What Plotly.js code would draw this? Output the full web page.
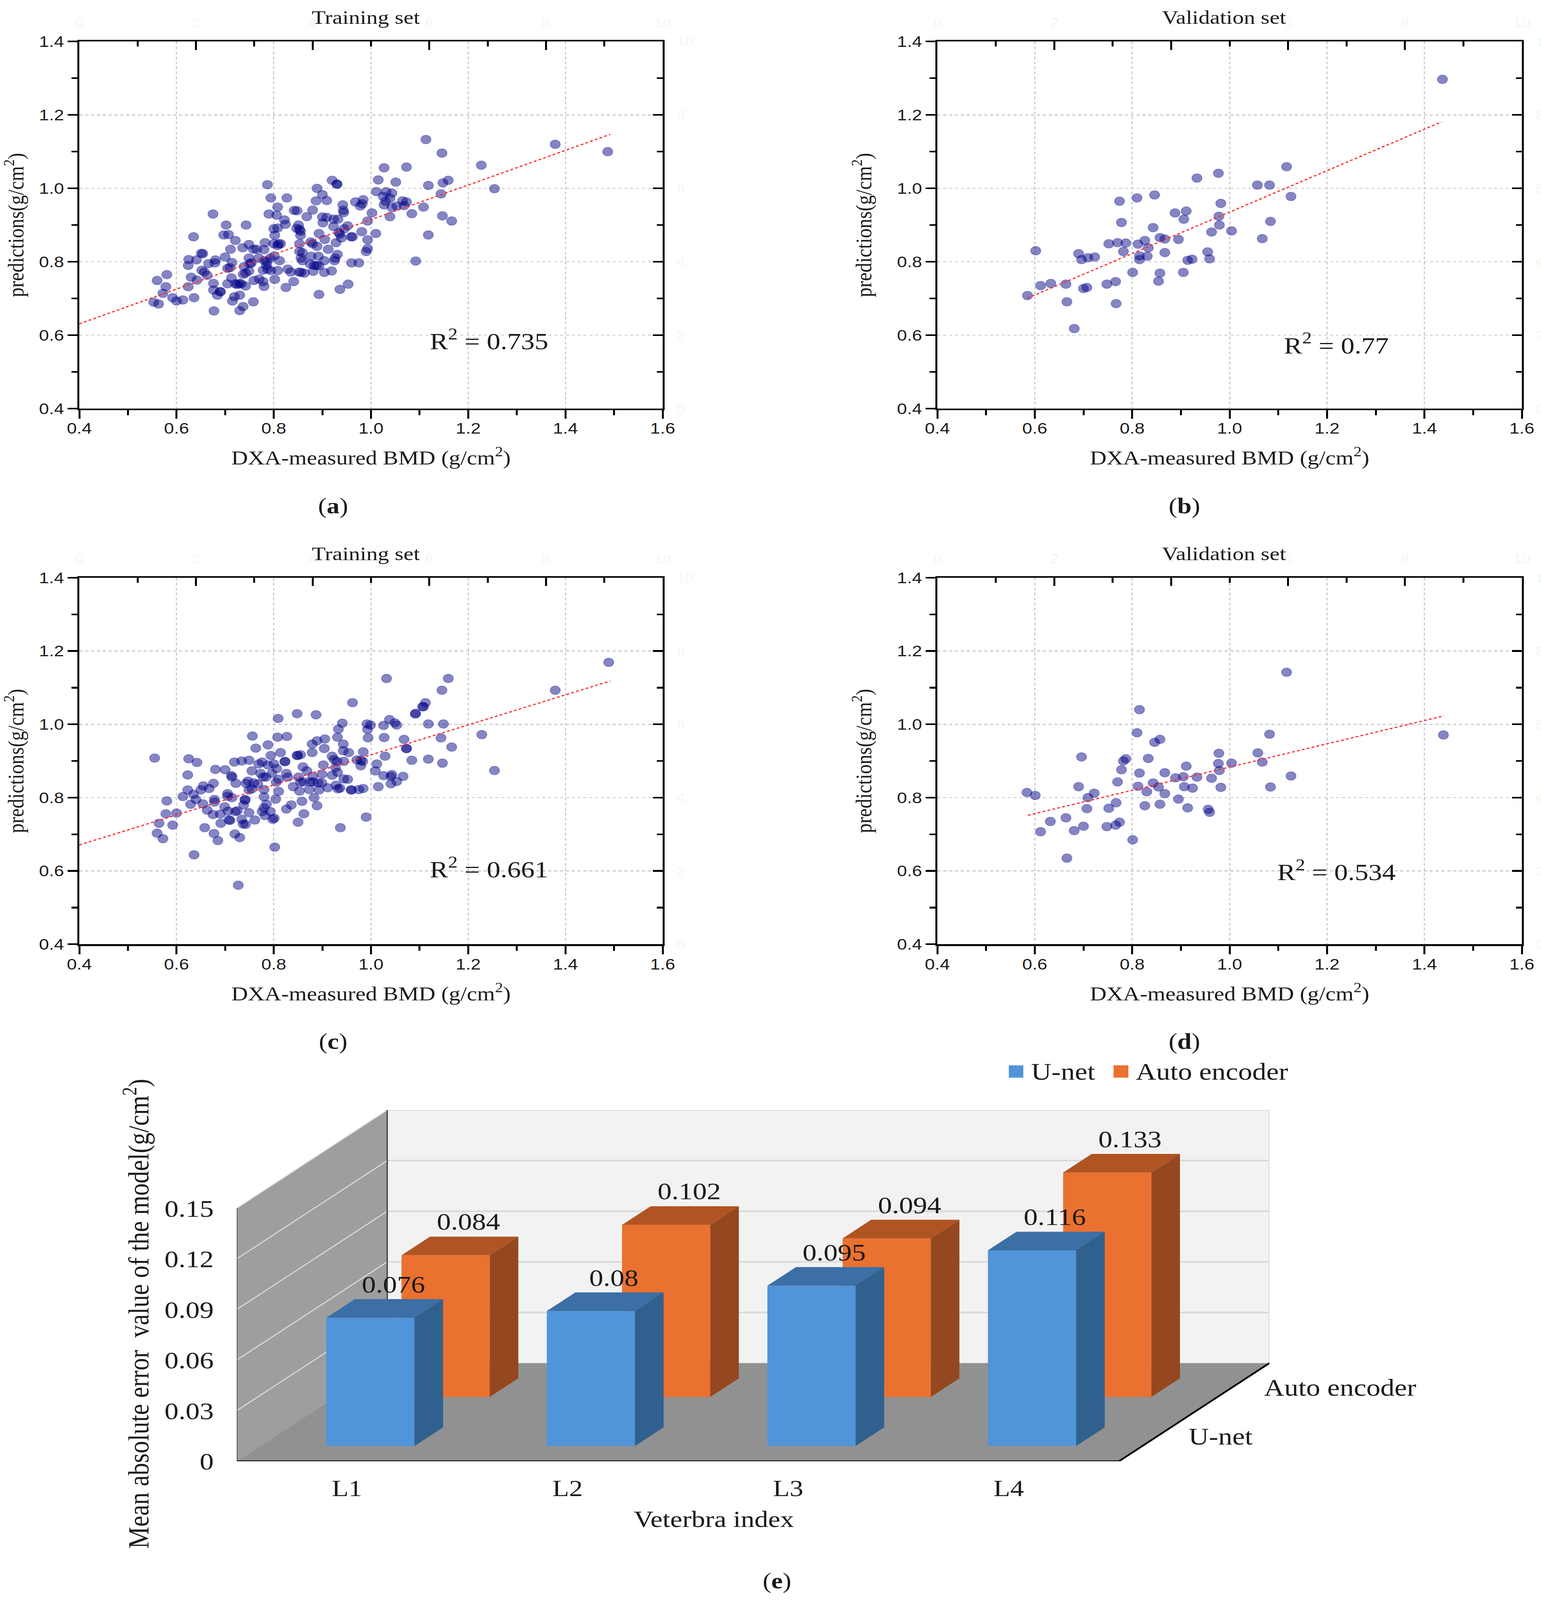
<!DOCTYPE html>
<html>
<head>
<meta charset="utf-8">
<script src="https://cdn.plot.ly/plotly-3.0.1.min.js"></script>
<style>html,body{margin:0;padding:0;background:#fff;overflow:hidden}</style>
</head>
<body>
<div id="chart"></div>
<script>
// panel (a) training set, first model
var aX = [.553,.563,.572,.578,.560,.580,.592,.600,.613,.636,.624,.630,.642,.624,.625,.641,.651,.654,.635,.652,.657,.663,.666,.679,.680,.676,.676,.684,.690,.690,.677,.675,.702,.697,.707,.721,.711,.700,.714,.705,.710,.713,.705,.721,.725,.729,.733,.742,.730,.719,.715,.737,.730,.758,.743,.736,.749,.758,.765,.780,.749,.739,.751,.754,.742,.749,.737,.759,.770,.778,.780,.769,.781,.782,.802,.800,.810,.814,.808,.787,.794,.827,.808,.790,.806,.822,.824,.800,.808,.785,.778,.787,.794,.786,.793,.801,.812,.808,.802,.825,.841,.829,.835,.852,.856,.863,.842,.848,.868,.880,.889,.900,.887,.909,.920,.930,.930,.851,.847,.853,.855,.855,.853,.853,.859,.856,.859,.876,.880,.889,.893,.905,.912,.928,.877,.892,.875,.883,.888,.893,.881,.904,.904,.919,.925,.931,.926,.936,.953,.893,.900,.909,.901,.923,.932,.923,.942,.943,.944,.934,.936,.939,.952,.945,.959,
	1.027,1.015,1.051,1.118,1.148,1.159,1.254,1.011,1.031,1.043,1.025,1.039,1.030,1.027,1.043,1.053,1.065,1.073,1.068,1.144,1.108,1.084,1.039,1.002,.993,1.147,1.166,1.118,.968,.984,.978,.982,.981,.962,1.010,.993,.993,.990,.960,.975,1.092,1.113,1.146,1.227,1.379,1.487,1.073];
var aY = [.690,.685,.714,.732,.749,.765,.702,.693,.696,.702,.732,.758,.750,.790,.806,.805,.823,.822,.868,.777,.772,.763,.795,.797,.805,.741,.723,.709,.719,.718,.666,.930,.900,.873,.874,.858,.834,.813,.798,.782,.784,.756,.740,.740,.738,.741,.740,.734,.709,.705,.693,.678,.667,.691,.900,.838,.847,.834,.834,.833,.810,.787,.795,.797,.769,.775,.766,.749,.753,.746,.733,.810,.803,.852,.872,.849,.849,.849,.844,1.010,.974,.974,.949,.930,.927,.914,.902,.890,.892,.790,.777,.780,.776,.800,.810,.816,.803,.776,.752,.730,.746,.780,.772,.772,.771,.769,.940,.939,.923,.941,1.000,.983,.966,.967,1.022,1.012,1.011,.900,.891,.888,.883,.872,.849,.828,.825,.810,.803,.854,.849,.842,.877,.861,.834,.852,.815,.815,.794,.790,.790,.789,.774,.803,.771,.775,.803,.820,.810,.725,.739,.711,.922,.921,.906,.916,.916,.896,.955,.940,.934,.880,.875,.865,.898,.890,.868,
	1.056,1.023,1.017,1.008,1.015,1.022,.999,.991,.991,.987,.978,.973,.965,.955,.948,.952,.966,.963,.953,.985,.949,.931,.923,.933,.911,.925,.911,.873,.963,.969,.952,.958,.882,.868,.877,.860,.836,.828,.797,.797,.802,1.133,1.096,1.063,1.120,1.100,1.058];
var aFitX = [0.4, 1.492];
var aFitY = [0.631, 1.147];

// panel (b) validation set, first model
var bX = [.585,.602,.612,.633,.664,.666,.681,.690,.696,.700,.707,.709,.723,.748,.752,.766,.767,.770,.774,.778,.782,.787,.801,.810,.812,.815,.815,.826,.831,.833,.843,.846,.854,.857,.857,.867,.867,.888,.895,.905,.906,.911,.914,.923,.933,.955,.959,.963,.977,.978,.979,.982,1.004,1.057,1.067,1.082,1.084,1.117,1.126,1.437];
var bY = [.708,.830,.735,.741,.739,.691,.618,.822,.806,.727,.730,.811,.813,.739,.849,.746,.686,.852,.965,.907,.828,.851,.771,.974,.848,.816,.806,.858,.815,.838,.893,.982,.747,.769,.866,.825,.862,.933,.861,.771,.916,.938,.804,.807,1.028,.827,.808,.881,1.041,.924,.900,.959,.884,1.009,.863,1.009,.910,1.059,.978,1.297];
var bFitX = [0.585, 1.435];
var bFitY = [0.701, 1.181];

// panel (c) training set, second model
var cX = [.555,.625,.642,.623,.623,.613,.635,.640,.655,.650,.667,.676,.580,.578,.600,.629,.654,.663,.675,.690,.564,.592,.560,.572,.658,.677,.685,.636,.727,.720,.730,.691,.708,.710,.734,.737,.742,.761,.749,.725,.721,.706,.699,.738,.741,.741,.678,.678,.705,.705,.714,.680,.700,.713,.714,.722,.719,.734,.749,.756,.763,.788,.809,.848,.887,.808,.827,.814,.794,.823,.823,.755,.769,.776,.788,.800,.806,.796,.778,.784,.773,.826,.829,.805,.810,.747,.759,.767,.743,.749,.755,.780,.780,.785,.780,.776,.782,.793,.798,.801,.810,.804,.826,.836,.862,.850,.802,.937,.858,.883,.889,.840,.853,.873,.893,.911,.932,.855,.861,.875,.881,.891,.899,.851,.860,.868,.899,.880,.848,.849,.855,.879,.879,.889,.905,.904,.902,.920,.924,.930,.927,.931,.920,.928,.943,.943,.931,.933,.941,.944,.952,.944,.959,
	1.108,1.092,.992,.999,.993,1.026,1.038,1.049,1.053,1.118,1.149,.994,1.027,1.068,1.144,1.228,1.166,1.073,1.073,.984,.954,1.029,1.084,1.118,1.147,.971,.979,.983,.979,1.012,1.009,1.026,1.043,1.041,1.066,1.053,1.041,1.015,.960,.975,.984,.936,.990,1.254,1.489,1.379,1.146,1.159,1.032,1.112,1.106,1.091,.962];
var cY = [.908,.906,.896,.862,.821,.803,.809,.795,.832,.821,.825,.839,.791,.756,.758,.782,.783,.766,.754,.755,.730,.725,.703,.688,.718,.702,.683,.644,.561,.701,.691,.730,.739,.738,.741,.728,.727,.739,.759,.764,.762,.763,.775,.780,.793,.795,.795,.788,.811,.804,.800,.877,.876,.860,.856,.839,.897,.900,.902,.968,.935,.944,1.016,1.029,1.026,.965,.967,.923,.915,.899,.898,.873,.892,.897,.889,.892,.879,.866,.856,.856,.866,.866,.856,.842,.850,.845,.840,.837,.839,.821,.824,.822,.802,.782,.772,.762,.751,.762,.741,.744,.817,.796,.769,.780,.756,.733,.665,.718,.790,.800,.778,.830,.818,.822,.821,.827,.824,.842,.843,.843,.843,.840,.840,.856,.884,.873,.864,.858,.915,.915,.917,.923,.946,.955,.960,.934,.889,.913,.904,.899,.882,.869,.861,.834,.946,.928,.965,.987,1.003,.899,.850,.851,.821,
	1.048,1.030,1.001,.998,.986,.997,1.013,1.004,.998,1.001,1.001,.963,.964,.959,.963,.972,.938,.934,.934,.925,.923,.913,.902,.905,.894,.903,.902,.899,.887,.892,.873,.860,.863,.858,.858,.844,.838,.830,.821,.822,.825,.826,.747,.874,1.169,1.093,1.093,1.125,1.125,1.059,1.048,1.028,1.059];
var cFitX = [0.4, 1.492];
var cFitY = [0.671, 1.118];

// panel (d) validation set, second model
var dX = [.584,.601,.612,.632,.664,.666,.681,.690,.696,.700,.707,.709,.722,.748,.752,.766,.767,.770,.774,.778,.782,.787,.801,.810,.812,.815,.815,.826,.830,.833,.843,.846,.854,.857,.857,.867,.867,.889,.895,.905,.907,.911,.914,.924,.933,.956,.959,.963,.977,.978,.979,.982,1.004,1.058,1.067,1.082,1.084,1.117,1.126,1.439];
var dY = [.814,.806,.707,.735,.745,.635,.710,.830,.911,.722,.770,.800,.812,.721,.771,.725,.786,.843,.733,.876,.900,.906,.685,.977,.831,1.040,.867,.778,.816,.907,.840,.951,.829,.782,.959,.811,.868,.854,.796,.857,.830,.886,.772,.826,.856,.768,.760,.853,.893,.921,.874,.828,.894,.922,.897,.973,.829,1.142,.859,.971];
var dFitX = [0.586, 1.440];
var dFitY = [0.752, 1.023];

// panel (e) bars
var vertebrae = ['L1', 'L2', 'L3', 'L4'];
var unetValues = [0.076, 0.08, 0.095, 0.116];
var autoValues = [0.084, 0.102, 0.094, 0.133];
var barTicks = [0, 0.03, 0.06, 0.09, 0.12, 0.15];
var barTickText = ['0', '0.03', '0.06', '0.09', '0.12', '0.15'];
var seriesNames = ['U-net', 'Auto encoder'];

var W = 3944, H = 4797;
var SERIF = 'Liberation Serif, Times New Roman, serif';
var SANS = 'Liberation Sans, Arial, sans-serif';
var INK = '#1a1a1a';

function px(x) { return x / W; }
function py(y) { return 1 - y / H; }

var panels = [
	{x: aX, y: aY, fx: aFitX, fy: aFitY, left: 203, right: 1696, top: 124.5, bottom: 1225, title: 'Training set', titleX: 936, titleY: 51, tag: 'a', tagX: 852, tagY: 1517, r2: 'R<sup>2</sup> = 0.735', rx: 1.243, ry: 0.588},
	{x: bX, y: bY, fx: bFitX, fy: bFitY, left: 2399, right: 3895, top: 124.5, bottom: 1225, title: 'Validation set', titleX: 3132, titleY: 51, tag: 'b', tagX: 3031, tagY: 1517, r2: 'R<sup>2</sup> = 0.77', rx: 1.219, ry: 0.577},
	{x: cX, y: cY, fx: cFitX, fy: cFitY, left: 203, right: 1696, top: 1732, bottom: 2831, title: 'Training set', titleX: 936, titleY: 1661, tag: 'c', tagX: 852, tagY: 3122, r2: 'R<sup>2</sup> = 0.661', rx: 1.243, ry: 0.609},
	{x: dX, y: dY, fx: dFitX, fy: dFitY, left: 2399, right: 3895, top: 1732, bottom: 2831, title: 'Validation set', titleX: 3132, titleY: 1661, tag: 'd', tagX: 3031, tagY: 3122, r2: 'R<sup>2</sup> = 0.534', rx: 1.219, ry: 0.602}
];

var traces = [];
var annotations = [];
var shapes = [];
var layout = {
	width: W, height: H,
	margin: {l: 0, r: 0, t: 0, b: 0},
	paper_bgcolor: '#fff', plot_bgcolor: 'rgba(0,0,0,0)',
	showlegend: false,
	hovermode: false
};

function paperText(text, x, y, size, extra) {
	var a = {text: text, xref: 'paper', yref: 'paper', x: px(x), y: py(y), showarrow: false,
		xanchor: 'center', yanchor: 'middle', font: {family: SERIF, size: size, color: INK}};
	for (var k in extra) a[k] = extra[k];
	annotations.push(a);
}

panels.forEach(function (p, i) {
	var n = i * 2 + 1, m = n + 1;
	var xName = n === 1 ? 'x' : 'x' + n, yName = n === 1 ? 'y' : 'y' + n;
	var xKey = n === 1 ? 'xaxis' : 'xaxis' + n, yKey = n === 1 ? 'yaxis' : 'yaxis' + n;
	var xDom = [px(p.left), px(p.right)], yDom = [py(p.bottom), py(p.top)];
	var grid = {showgrid: true, gridcolor: '#c9c9c9', gridwidth: 3, griddash: '8px,7px', zeroline: false};
	var main = {showline: true, linecolor: '#000', linewidth: 5, ticks: 'outside', ticklen: 25, tickwidth: 5, tickcolor: '#000',
		minor: {dtick: 0.1, ticks: 'outside', ticklen: 15, tickwidth: 5, tickcolor: '#000', showgrid: false},
		dtick: 0.2, tick0: 0.4, tickformat: '.1f', tickfont: {family: SANS, size: 46, color: INK}};
	layout[xKey] = Object.assign({}, main, grid, {domain: xDom, range: [0.4, 1.6], anchor: yName, ticklabelstandoff: -10,
		title: {text: 'DXA-measured BMD (g/cm<sup>2</sup>)', font: {family: SERIF, size: 59, color: INK}, standoff: 44}});
	layout[yKey] = Object.assign({}, main, grid, {domain: yDom, range: [0.4, 1.4], anchor: xName, ticklabelstandoff: 0,
		title: {text: 'predictions(g/cm<sup>2</sup>)', font: {family: SERIF, size: 58, color: INK}, standoff: 48}});

	// faint 0-10 top and right axes of the source plots
	var ghost = {showline: true, linecolor: '#000', linewidth: 5, range: [0, 10], dtick: 2, ticks: 'inside', ticklen: 25, tickwidth: 5, tickcolor: '#000',
		minor: {dtick: 1, ticks: 'inside', ticklen: 15, tickwidth: 5, tickcolor: '#000', showgrid: false},
		showgrid: false, zeroline: false, tickfont: {family: SANS, size: 40, color: '#f3f7f1'}, ticklabelstandoff: 22};
	layout['xaxis' + m] = Object.assign({}, ghost, {domain: xDom, overlaying: xName, side: 'top', anchor: 'y' + m});
	layout['yaxis' + m] = Object.assign({}, ghost, {domain: yDom, overlaying: yName, side: 'right', anchor: 'x' + m});
	traces.push({type: 'scatter', mode: 'markers', x: [null], y: [null], xaxis: 'x' + m, yaxis: 'y' + m});

	traces.push({type: 'scatter', mode: 'markers', x: p.x, y: p.y, xaxis: xName, yaxis: yName,
		marker: {size: 26, color: 'rgba(0,0,128,0.48)', line: {width: 2, color: 'rgba(0,0,170,0.3)'}}});
	traces.push({type: 'scatter', mode: 'lines', x: p.fx, y: p.fy, xaxis: xName, yaxis: yName,
		line: {color: '#ff2a2a', width: 3.5, dash: '7px,6px'}});

	paperText(p.title, p.titleX, p.titleY, 58);
	paperText('(<b>' + p.tag + '</b>)', p.tagX, p.tagY, 66);
	annotations.push({text: p.r2, xref: xName, yref: yName, x: p.rx, y: p.ry, showarrow: false,
		font: {family: SERIF, size: 70, color: INK}});
});

// panel (e): oblique projection of category, depth row and value onto one 2D axis pair
var KX = 0.3411, KY = 0.0291;
var XE = 'x9', YE = 'y9';
function project(u, d, v) { return [u + d * KX, v + d * KY]; }

function poly(corners, color) {
	var xs = [], ys = [];
	corners.forEach(function (c) {
		if (c === null) { xs.push(null); ys.push(null); return; }
		var q = project(c[0], c[1], c[2]);
		xs.push(q[0]); ys.push(q[1]);
	});
	traces.push({type: 'scatter', mode: 'lines', x: xs, y: ys, xaxis: XE, yaxis: YE,
		fill: 'toself', fillcolor: color, line: {width: 0}});
}
function edge(a, b, color, width) {
	var p = project(a[0], a[1], a[2]), q = project(b[0], b[1], b[2]);
	traces.push({type: 'scatter', mode: 'lines', x: [p[0], q[0]], y: [p[1], q[1]], xaxis: XE, yaxis: YE,
		line: {color: color, width: width}});
}

var TOP = 0.15;
poly([[0, 2, 0], [4, 2, 0], [4, 2, TOP], [0, 2, TOP]], '#f2f2f2');
poly([[0, 0, 0], [0, 2, 0], [0, 2, TOP], [0, 0, TOP]], '#9e9e9e');
barTicks.slice(1).forEach(function (t) {
	edge([0, 2, t], [4, 2, t], '#d9d9d9', 5);
	edge([0, 0, t], [0, 2, t], '#dcdcdc', 3);
});
poly([[0, 0, 0], [4, 0, 0], [4, 2, 0], [0, 2, 0]], '#919191');
edge([4, 2, 0], [4, 2, TOP], '#d9d9d9', 4);
edge([0, 2, 0], [0, 2, TOP], '#333333', 3);
edge([0, 0, 0], [0, 0, TOP], '#333333', 3);
edge([0, 0, 0], [4, 0, 0], '#000', 5);
edge([4, 0, 0], [4, 2, 0], '#000', 5);

function barSeries(values, row, front, top, side) {
	var d0 = row + 0.31, d1 = row + 0.69, f = [], t = [], s = [];
	values.forEach(function (v, i) {
		var u0 = i + 0.3, u1 = i + 0.7;
		f.push([u0, d0, 0], [u1, d0, 0], [u1, d0, v], [u0, d0, v], null);
		t.push([u0, d0, v], [u1, d0, v], [u1, d1, v], [u0, d1, v], null);
		s.push([u1, d0, 0], [u1, d1, 0], [u1, d1, v], [u1, d0, v], null);
		var q = project(i + 0.5, row + 0.5, v);
		annotations.push({text: String(v), xref: XE, yref: YE, x: q[0], y: q[1], xshift: 22, yshift: 72, showarrow: false,
			font: {family: SERIF, size: 72, color: INK}});
	});
	poly(f, front); poly(t, top); poly(s, side);
}
barSeries(autoValues, 1, '#ea7130', '#b05423', '#95481f');
barSeries(unetValues, 0, '#5094da', '#3b6fa5', '#30608e');

layout.xaxis9 = {domain: [px(606), px(3249)], range: [0, 4 + 2 * KX], anchor: 'y9', showgrid: false, zeroline: false, showline: false,
	tickvals: [0.5, 1.5, 2.5, 3.5], ticktext: vertebrae, ticks: '', tickfont: {family: SERIF, size: 70, color: INK}, ticklabelstandoff: 34};
layout.yaxis9 = {domain: [py(4381), py(3328)], range: [0, TOP + 2 * KY], anchor: 'x9', showgrid: false, zeroline: false, showline: false,
	tickvals: barTicks, ticktext: barTickText, ticks: '', tickfont: {family: SERIF, size: 72, color: INK}, ticklabelstandoff: 58};

// row names beside the floor
seriesNames.forEach(function (name, row) {
	var q = project(4, row + 0.5, 0);
	annotations.push({text: name, xref: XE, yref: YE, x: q[0], y: q[1], xshift: 80, xanchor: 'left', showarrow: false,
		font: {family: SERIF, size: 72, color: INK}});
});

paperText('Veterbra index', 1827, 4554, 70);
paperText('Mean absolute error\u00a0\u00a0value of the model(g/cm<sup>2</sup>)', 349, 3939, 74, {textangle: -90});
paperText('(<b>e</b>)', 1988, 4740, 66);

// legend
shapes.push({type: 'rect', xref: 'paper', yref: 'paper', x0: px(2582), x1: px(2619), y0: py(3231), y1: py(3194), fillcolor: '#5094da', line: {width: 0}});
shapes.push({type: 'rect', xref: 'paper', yref: 'paper', x0: px(2850), x1: px(2888), y0: py(3231), y1: py(3194), fillcolor: '#ea7130', line: {width: 0}});
paperText(seriesNames[0], 2637, 3213, 72, {xanchor: 'left'});
paperText(seriesNames[1], 2905, 3213, 72, {xanchor: 'left'});

layout.annotations = annotations;
layout.shapes = shapes;

// the window can be shorter than the figure: squeeze vertically so all of it stays in view
var chart = document.getElementById('chart');
var fit = Math.min(1, window.innerHeight / H);
chart.style.transformOrigin = '0 0';
chart.style.transform = 'scaleY(' + fit + ')';

Plotly.newPlot('chart', traces, layout, {displayModeBar: false, staticPlot: true});
</script>
</body>
</html>
